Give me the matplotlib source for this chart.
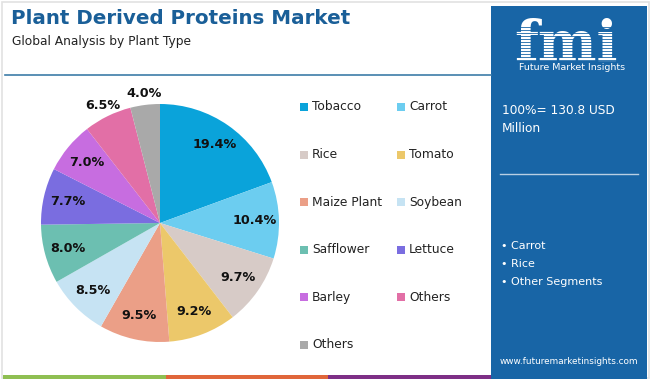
import matplotlib
matplotlib.use("Agg")
import matplotlib.pyplot as plt
from matplotlib.patches import Rectangle
import numpy as np

categories = ["Tobacco", "Carrot", "Rice", "Tomato", "Maize Plant", "Soybean",
              "Safflower", "Lettuce", "Barley", "Others", "Others"]
values = [19.4, 10.4, 9.7, 9.2, 9.5, 8.5, 8.0, 7.7, 7.0, 6.5, 4.0]
colors = ["#0aa3da", "#6ccdf0", "#d7cbc7", "#ecc86a", "#eb9f87", "#c6e3f3",
          "#6cbfb1", "#7a6de0", "#c76de0", "#e26fa6", "#a9a9a9"]
title = "Plant Derived Proteins Market"
subtitle = "Global Analysis by Plant Type"
total_text = ["100%= 130.8 USD", "Million"]
bullets = ["Carrot", "Rice", "Other Segments"]
url = "www.futuremarketinsights.com"

W, H = 650, 379
DPI = 100
fig = plt.figure(figsize=(W / DPI, H / DPI), dpi=DPI)
fig.patch.set_facecolor("white")

bg = fig.add_axes([0, 0, 1, 1])
bg.set_xlim(0, W)
bg.set_ylim(H, 0)
bg.axis("off")

FONT = "DejaVu Sans"
blue_panel = "#1865a6"
title_col = "#1a5f98"

bg.add_patch(Rectangle((1.5, 1.5), W - 3, H - 3, fill=False, ec="#e2e2e2", lw=1.2))
bg.plot([5, 491], [75, 75], color="#3d7da8", lw=1.2)
bg.add_patch(Rectangle((3, 375), 163, 4, color="#8fbf52", lw=0))
bg.add_patch(Rectangle((166, 375), 162, 4, color="#e0663a", lw=0))
bg.add_patch(Rectangle((328, 375), 163, 4, color="#7e2f86", lw=0))

bg.add_patch(Rectangle((491, 6), 156, 373, color=blue_panel, lw=0))

bg.text(11, 18, title, fontsize=14.3, fontweight="bold", color=title_col,
        family=FONT, va="center", ha="left")
bg.text(12, 42, subtitle, fontsize=8.8, color="#222222", family=FONT,
        va="center", ha="left")

# logo
bg.text(566, 61, "fmi", fontsize=40, fontweight="bold", color="white",
        family="DejaVu Serif", va="baseline", ha="center", zorder=3)
for yy in np.arange(27, 61, 3.0):
    bg.plot([508, 634], [yy, yy], color=blue_panel, lw=0.6, zorder=4)
bg.text(572, 68, "Future Market Insights", fontsize=6.8, color="white",
        family=FONT, va="center", ha="center")

bg.text(502, 110, total_text[0], fontsize=8.7, color="white", family=FONT,
        va="center", ha="left")
bg.text(502, 129, total_text[1], fontsize=8.7, color="white", family=FONT,
        va="center", ha="left")
bg.plot([500, 638], [174, 174], color="#b9cfe3", lw=1)
for i, b in enumerate(bullets):
    bg.text(501, 246 + 18 * i, "\u2022 " + b, fontsize=8, color="white",
            family=FONT, va="center", ha="left")
bg.text(569, 362, url, fontsize=6.4, color="white", family=FONT,
        va="center", ha="center")

col_x = [300, 397]
row_y0, row_dy = 107, 47.6
for i, (c, col) in enumerate(zip(categories, colors)):
    r, k = divmod(i, 2)
    x = col_x[k]
    y = row_y0 + r * row_dy
    bg.add_patch(Rectangle((x, y - 4), 8, 8, color=col, lw=0))
    bg.text(x + 12, y, c, fontsize=8.8, color="#222222", family=FONT,
            va="center", ha="left")

cx, cy, R = 160, 223, 119
pax = fig.add_axes([(cx - R) / W, (H - cy - R) / H, 2 * R / W, 2 * R / H])
wedges, _ = pax.pie(values, colors=colors, startangle=90, counterclock=False,
                    radius=1, wedgeprops=dict(lw=0))
pax.set_xlim(-1, 1)
pax.set_ylim(-1, 1)
pax.axis("off")
for w, v in zip(wedges, values):
    ang = np.deg2rad((w.theta1 + w.theta2) / 2)
    d = 1.1 if v < 6.8 else 0.8
    pax.text(d * np.cos(ang), d * np.sin(ang), f"{v:.1f}%", ha="center",
             va="center", fontsize=9.2, fontweight="bold", color="#111111",
             family=FONT)

fig.savefig("out.png", dpi=DPI)
